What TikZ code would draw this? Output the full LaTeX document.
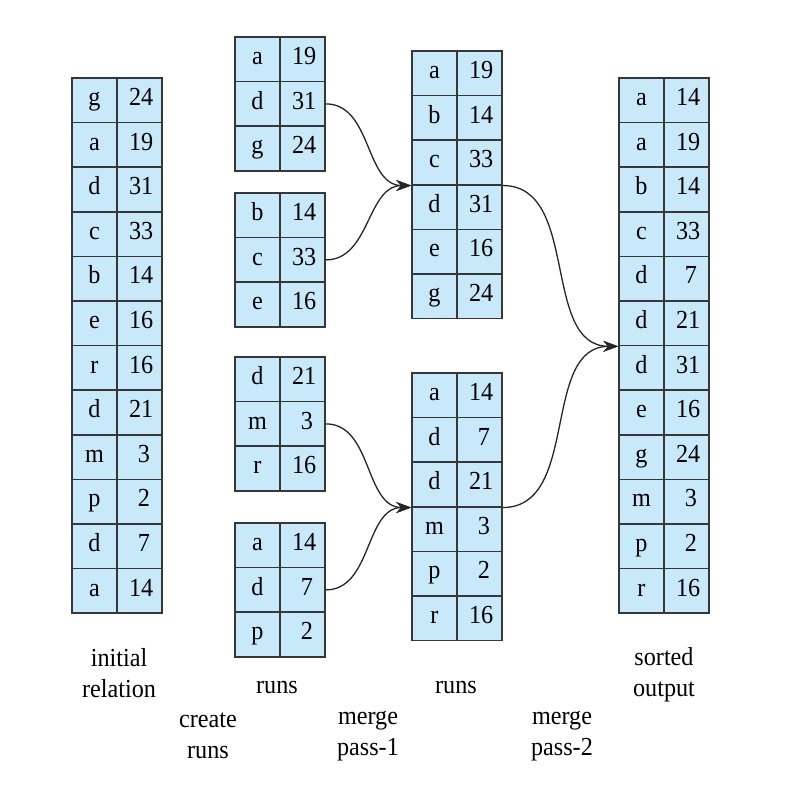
\documentclass[tikz,border=0pt]{standalone}
\usepackage{fontspec}
\setmainfont[FakeStretch=0.93]{Liberation Serif}
\usetikzlibrary{arrows.meta}

\definecolor{cellblue}{RGB}{199,233,250}
\definecolor{gridline}{RGB}{55,55,55}

\tikzset{
  cell/.style={draw=gridline,fill=cellblue,line width=0.75pt,minimum height=22.3pt,
    text height=0.52em,text depth=0pt,inner ysep=0pt},
  keycell/.style={cell,minimum width=22.5pt,inner xsep=0pt},
  valcell/.style={cell,inner xsep=6pt,text width=10.5pt,align=right},
  link/.style={line width=0.65pt,draw=black!85,-{Stealth[length=7.5pt,width=5.5pt]}},
  caption/.style={align=center}
}

% name, left x, top y, key/value list
\newcommand{\runtable}[4]{%
  \foreach \k/\v [count=\i] in {#4} {
    \node[keycell] (#1-k\i) at ({#2+22.5},{#3+(\i-0.5)*44.6}) {\k};
    \node[valcell] (#1-v\i) at ({#2+67.5},{#3+(\i-0.5)*44.6}) {\v};
  }}

\begin{document}
\begin{tikzpicture}[x=0.5pt,y=-0.5pt,font=\fontsize{13pt}{15.5pt}\selectfont]
\useasboundingbox (0,0) rectangle (805,785);

% initial relation
\runtable{init}{72}{78}{g/24,a/19,d/31,c/33,b/14,e/16,r/16,d/21,m/3,p/2,d/7,a/14}

% runs
\runtable{runa}{235}{37}{a/19,d/31,g/24}
\runtable{runb}{235}{193}{b/14,c/33,e/16}
\runtable{runc}{235}{357}{d/21,m/3,r/16}
\runtable{rund}{235}{523}{a/14,d/7,p/2}

% runs after merge pass-1
\runtable{mrga}{412}{51}{a/19,b/14,c/33,d/31,e/16,g/24}
\runtable{mrgb}{412}{373}{a/14,d/7,d/21,m/3,p/2,r/16}

% sorted output
\runtable{out}{619}{78}{a/14,a/19,b/14,c/33,d/7,d/21,d/31,e/16,g/24,m/3,p/2,r/16}

\draw[link] (runa-v2.east) to[out=0,in=180] (mrga-k3.south west);
\draw[link] (runb-v2.east) to[out=0,in=180] (mrga-k3.south west);
\draw[link] (runc-v2.east) to[out=0,in=180] (mrgb-k3.south west);
\draw[link] (rund-v2.east) to[out=0,in=180] (mrgb-k3.south west);
\draw[link] (mrga-v3.south east) to[out=0,in=180] (out-k6.south west);
\draw[link] (mrgb-v3.south east) to[out=0,in=180] (out-k6.south west);

\node[caption] (capinit) at (119,673) {initial\\relation};
\node[caption] (capruns) at (277,688) {runs};
\node[caption] (capcreate) at (208,736) {create\\runs};
\node[caption] (capmrgruns) at (456,688) {runs};
\node[caption] (cappassa) at (368,736) {merge\\pass-1};
\node[caption] (cappassb) at (562,736) {merge\\pass-2};
\node[caption] (capout) at (664,675) {sorted\\output};
\end{tikzpicture}
\end{document}
